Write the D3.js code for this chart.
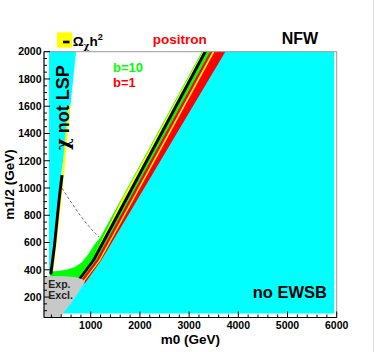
<!DOCTYPE html>
<html>
<head>
<meta charset="utf-8">
<script src="https://cdn.jsdelivr.net/npm/d3@7"></script>
<style>
  body { margin: 0; background: #fff; }
  svg { display: block; font-family: "Liberation Sans", Arial, Helvetica, sans-serif; font-weight: bold; }
  .greek { font-family: "DejaVu Serif", serif; }
</style>
</head>
<body>
<div id="chart"></div>
<script>
// axis ticks
var xTicks = [1000, 2000, 3000, 4000, 5000, 6000];
var yTicks = [200, 400, 600, 800, 1000, 1200, 1400, 1600, 1800, 2000];

// "chi not LSP" wedge, [m0, m1/2]
var lspRegion = [[152, 2000], [701, 2000], [558, 1498], [324, 911], [192, 457], [152, 360]];

// left branch of the relic density curve
var leftYellow = [[562, 1608], [497, 1351], [446, 1131], [385, 911], [294, 618], [223, 398]];
var leftBlack = [[188, 366], [263, 581], [355, 911], [416, 1094]];

// dashed contour
var dashed = [[416, 999], [518, 941], [640, 875], [782, 801], [924, 735], [1046, 684], [1168, 640]];

// right band edges, m0 values at these m1/2 values
var bandM12 = [2000, 911, 470, 300];
var greenLeft = [3258, 1609, 943, 583];
var blackLeft = [3293, 1676, 1022, 668];
var blackRight = [3360, 1743, 1089, 735];
var redLeft = [3427, 1778, 1111, 751];
var yellowLeft = [3476, 1833, 1168, 810];
var yellowRight = [3516, 1866, 1197, 837];
var cyanLeft = [3736, 1941, 1215, 880];

// b=10 bulge at low m1/2
var greenBulge = [[1186, 633], [1067, 581], [960, 520], [820, 455], [680, 420], [520, 402], [350, 392], [172, 388], [172, 320], [800, 320]];

// no EWSB corner
var ewsbCorner = [[5950, 2000], [5950, 80], [400, 80]];

// experimental exclusion
var exclRegion = [[50, 355], [480, 353], [700, 345], [830, 330], [885, 312], [760, 240], [600, 155], [460, 90], [375, 50], [50, 50]];

var W = 374, H = 352;
var margin = { top: 51.7, right: 37.3, bottom: 34.5, left: 44 };

var svg = d3.select("#chart").append("svg")
  .attr("width", W).attr("height", H);

var x = d3.scaleLinear().domain([50, 6000]).range([margin.left, W - margin.right]);
var y = d3.scaleLinear().domain([50, 2000]).range([H - margin.bottom, margin.top]);

var line = d3.line().x(function(d) { return x(d[0]); }).y(function(d) { return y(d[1]); });

var edge = function(arr) {
  return arr.map(function(m0, i) { return [m0, bandM12[i]]; });
};
var between = function(a, b) {
  return edge(a).concat(edge(b).reverse());
};

var plot = svg.append("g");

var poly = function(pts, fill) {
  plot.append("path").attr("d", line(pts) + "Z").attr("fill", fill);
};

// no EWSB region (left edge hidden under the red band)
poly([[yellowRight[0], 2000]].concat(ewsbCorner).concat(edge(yellowRight).reverse()), "#00ffff");

// b=10
poly(edge(greenLeft).slice(0, 2).concat(greenBulge).concat(edge(yellowLeft).reverse()), "#00ff00");
// b=1
poly(between(redLeft, cyanLeft), "#ff0000");
poly(between(yellowLeft, yellowRight), "#ffff00");
// thin yellow left of the black line, upper part
poly(between(greenLeft.map(function(v, i) { return i < 2 ? v + 15 : blackLeft[i]; }), blackLeft), "#ffff00");
poly(between(blackLeft, blackRight), "#000000");

// chi not LSP
poly(lspRegion, "#00ffff");

plot.append("path").attr("d", line(leftYellow)).attr("fill", "none")
  .attr("stroke", "#ffff00").attr("stroke-width", 2.2);
plot.append("path").attr("d", line(leftBlack)).attr("fill", "none")
  .attr("stroke", "#000").attr("stroke-width", 3);

plot.append("path").attr("d", line(dashed)).attr("fill", "none")
  .attr("stroke", "#666").attr("stroke-width", 0.9).attr("stroke-dasharray", "3,2");

poly(exclRegion, "#c8c8c8");

// axes, ROOT style: ticks inside the frame
var x0 = margin.left, x1 = W - margin.right, y0 = H - margin.bottom, y1 = margin.top;

svg.append("rect").attr("x", x0).attr("y", y1).attr("width", x1 - x0).attr("height", y0 - y1)
  .attr("fill", "none").attr("stroke", "#999").attr("stroke-width", 1);

var ax = svg.append("g").attr("stroke", "#000").attr("stroke-width", 1);
ax.append("line").attr("x1", x0).attr("x2", x1).attr("y1", y0).attr("y2", y0);
ax.append("line").attr("x1", x0).attr("x2", x0).attr("y1", y0).attr("y2", y1);

d3.range(200, 6001, 200).forEach(function(v) {
  var major = v % 1000 == 0;
  ax.append("line").attr("x1", x(v)).attr("x2", x(v))
    .attr("y1", y0).attr("y2", y0 - (major ? 6 : 3));
});
d3.range(100, 2001, 50).forEach(function(v) {
  var major = v % 200 == 0;
  ax.append("line").attr("x1", x0).attr("x2", x0 + (major ? 6 : 3))
    .attr("y1", y(v)).attr("y2", y(v));
});

svg.selectAll(".xl").data(xTicks).enter().append("text")
  .attr("x", function(d) { return x(d); }).attr("y", 328.5)
  .attr("text-anchor", "middle").attr("font-size", "10.5px").text(function(d) { return d; });

svg.selectAll(".yl").data(yTicks).enter().append("text")
  .attr("x", 41.5).attr("y", function(d) { return y(d); }).attr("dy", "0.36em")
  .attr("text-anchor", "end").attr("font-size", "10.5px").text(function(d) { return d; });

svg.append("text").attr("x", (x0 + x1) / 2).attr("y", 343.5).attr("text-anchor", "middle")
  .attr("font-size", "13.5px").text("m0 (GeV)");
svg.append("text").attr("transform", "translate(13.5," + ((y0 + y1) / 2) + ") rotate(-90)")
  .attr("text-anchor", "middle").attr("font-size", "13.5px").text("m1/2 (GeV)");

// labels inside the plot
var lsp = svg.append("text").attr("transform", "translate(69,150) rotate(-90)").attr("font-size", "18px");
lsp.append("tspan").attr("class", "greek").text("\u03c7");
lsp.append("tspan").text(" not LSP");
svg.append("text").attr("x", 48.3).attr("y", 288).attr("font-size", "10.5px").attr("fill", "#222").text("Exp.");
svg.append("text").attr("x", 48.3).attr("y", 299).attr("font-size", "10.5px").attr("fill", "#222").text("Excl.");
svg.append("text").attr("x", 327).attr("y", 297.5).attr("text-anchor", "end")
  .attr("font-size", "16.5px").text("no EWSB");
svg.append("text").attr("x", 113).attr("y", 72).attr("font-size", "13px").attr("fill", "#00ff00").text("b=10");
svg.append("text").attr("x", 113).attr("y", 86.7).attr("font-size", "13px").attr("fill", "#ff0000").text("b=1");

// top legend and titles
svg.append("rect").attr("x", 57).attr("y", 32.3).attr("width", 15).attr("height", 15.4).attr("fill", "#ffff00");
svg.append("line").attr("x1", 63).attr("x2", 69.5).attr("y1", 42).attr("y2", 42)
  .attr("stroke", "#000").attr("stroke-width", 2.6);
var om = svg.append("text").attr("x", 72.7).attr("y", 46).attr("font-size", "13.5px");
om.append("tspan").text("\u03a9");
om.append("tspan").attr("class", "greek").attr("font-size", "9px").attr("dy", 3).text("\u03c7");
om.append("tspan").attr("dy", -3).text("h");
om.append("tspan").attr("font-size", "9px").attr("dy", -6).text("2");

svg.append("text").attr("x", 152.7).attr("y", 43.5).attr("font-size", "13.5px").attr("fill", "#ff0000").text("positron");
svg.append("text").attr("x", 281.7).attr("y", 44).attr("font-size", "16px").text("NFW");

// canvas edge
svg.append("line").attr("x1", 373.5).attr("x2", 373.5).attr("y1", 0).attr("y2", H)
  .attr("stroke", "#ddd").attr("stroke-width", 1);
</script>
</body>
</html>
